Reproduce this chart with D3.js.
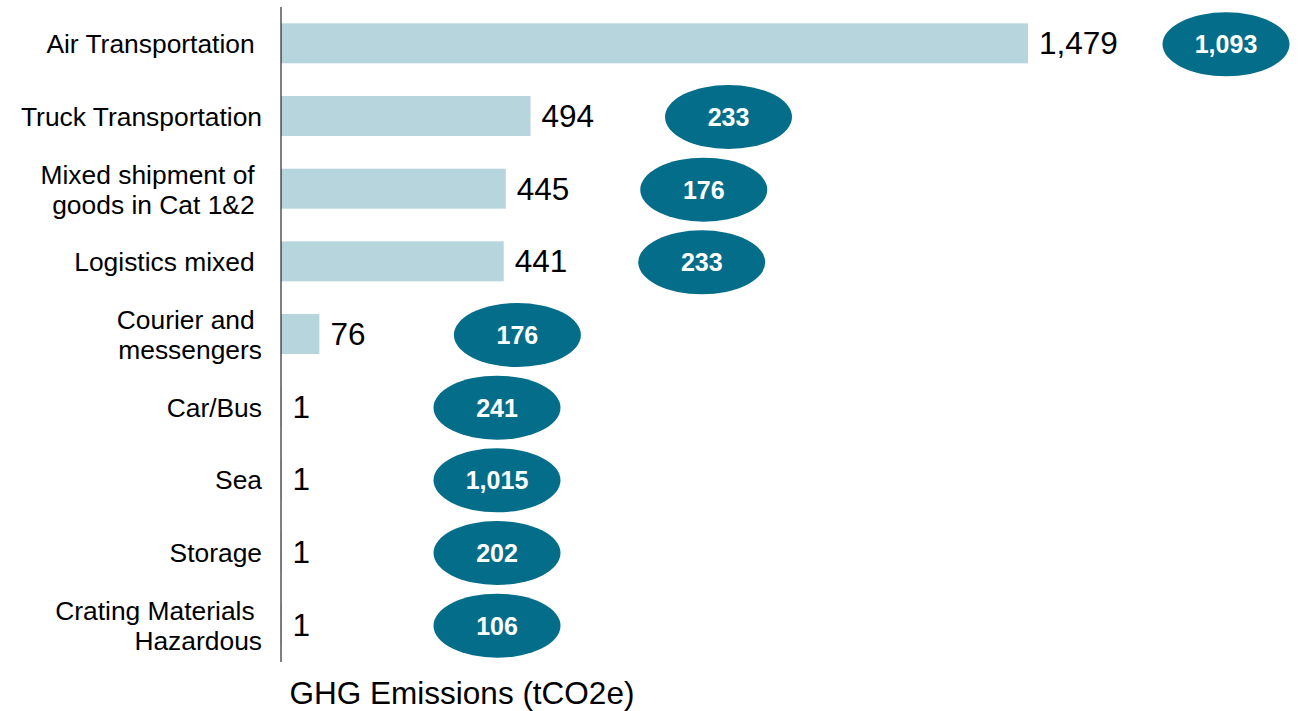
<!DOCTYPE html>
<html>
<head>
<meta charset="utf-8">
<script src="https://cdn.jsdelivr.net/npm/d3@7"></script>
<style>
  body { margin: 0; background: #fff; }
  text { font-family: Arial, "Liberation Sans", sans-serif; white-space: pre; }
</style>
</head>
<body>
<div class="chart"></div>
<script>
// chart data
var categories = [
  ["Air Transportation "],
  ["Truck Transportation"],
  ["Mixed shipment of ", "goods in Cat 1&2 "],
  ["Logistics mixed "],
  ["Courier and ", "messengers"],
  ["Car/Bus"],
  ["Sea"],
  ["Storage"],
  ["Crating Materials ", "Hazardous"]
];
var emissions = [1479, 494, 445, 441, 76, 1, 1, 1, 1];
var badgeValues = [1093, 233, 176, 233, 176, 241, 1015, 202, 106];
var axisTitle = "GHG Emissions (tCO2e)";

var svgWidth = 1299;
var svgHeight = 711;

var svg = d3.select(".chart")
  .append("svg")
  .attr("width", svgWidth)
  .attr("height", svgHeight);

var rows = d3.range(categories.length);

// scales
var xScale = d3.scaleLinear().domain([0, d3.max(emissions)]).range([281, 1028]);
var yScale = d3.scaleBand().domain(rows).range([7, 661]).paddingInner(0.45).paddingOuter(0.225);
var fmt = d3.format(",");
var mid = function(i) { return yScale(i) + yScale.bandwidth() / 2; };

// bars
svg.selectAll("rect.bar")
  .data(rows)
  .enter()
  .append("rect")
  .attr("class", "bar")
  .attr("x", xScale(0))
  .attr("y", function(i) { return yScale(i); })
  .attr("width", function(i) { return xScale(emissions[i]) - xScale(0); })
  .attr("height", yScale.bandwidth())
  .attr("fill", "#b7d5dd");

// value labels
svg.selectAll("text.value")
  .data(rows)
  .enter()
  .append("text")
  .attr("class", "value")
  .attr("x", function(i) { return xScale(emissions[i]) + 11; })
  .attr("y", function(i) { return mid(i) + 11; })
  .attr("font-size", 31.5)
  .attr("fill", "#000")
  .text(function(i) { return fmt(emissions[i]); });

// category labels (right aligned against the axis)
var cat = svg.selectAll("text.cat")
  .data(rows)
  .enter()
  .append("text")
  .attr("class", "cat")
  .attr("text-anchor", "end")
  .attr("font-size", 26.4)
  .attr("fill", "#000");

cat.each(function(i) {
  var lines = categories[i];
  var lh = 30;
  var t = d3.select(this);
  lines.forEach(function(line, k) {
    t.append("tspan")
      .attr("x", 262)
      .attr("y", mid(i) + 10 + (k - (lines.length - 1) / 2) * lh)
      .text(line);
  });
});

// badges with second value
var badgeCx = function(i) { return Math.max(xScale(0) + 216, xScale(emissions[i]) + 198); };
var badge = svg.selectAll("g.badge")
  .data(rows)
  .enter()
  .append("g")
  .attr("class", "badge")
  .attr("transform", function(i) {
    return "translate(" + badgeCx(i) + "," + (mid(i) + 1) + ")";
  });

badge.append("ellipse")
  .attr("rx", 63.5)
  .attr("ry", 32)
  .attr("fill", "#046e8a");

badge.append("text")
  .attr("text-anchor", "middle")
  .attr("y", 9)
  .attr("font-size", 25)
  .attr("font-weight", "bold")
  .attr("fill", "#fff")
  .text(function(i) { return fmt(badgeValues[i]); });

// vertical axis line
svg.append("line")
  .attr("x1", xScale(0)).attr("x2", xScale(0))
  .attr("y1", 7).attr("y2", 662)
  .attr("stroke", "#000")
  .attr("stroke-width", 1);

// axis title
svg.append("text")
  .attr("x", 462)
  .attr("y", 704)
  .attr("text-anchor", "middle")
  .attr("font-size", 31.5)
  .attr("fill", "#000")
  .text(axisTitle);
</script>
</body>
</html>
